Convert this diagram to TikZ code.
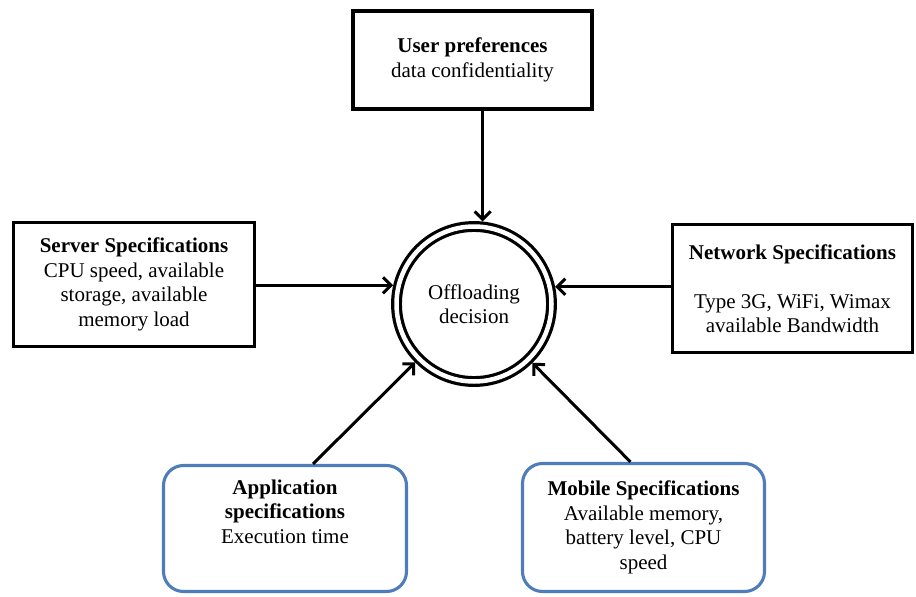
\documentclass[tikz,border=0pt]{standalone}
\usepackage{fontspec}
\setmainfont{Liberation Serif}
\usetikzlibrary{arrows.meta}
\definecolor{boxblue}{RGB}{79,125,185}
\begin{document}
\begin{tikzpicture}[x=1pt,y=-1pt,
  every node/.style={font=\fontsize{21}{24.5}\selectfont, align=center, inner sep=0pt},
  sqbox/.style={draw=black, line width=3.3pt, rectangle, fill=white},
  rndbox/.style={draw=boxblue, line width=3.1pt, rectangle, rounded corners=20pt, fill=white},
  decision/.style={circle, draw=black, line width=3.2pt, double=white, double distance=4.5pt, minimum size=155pt, outer sep=5.5pt},
  conn/.style={draw=black, line width=3pt, -{Straight Barb[length=8pt,width=16pt]}}
]
\useasboundingbox (0,0) rectangle (916,597);

\node[sqbox, minimum width=239pt, minimum height=98pt] (user) at (472.5,60)
  {\textbf{User preferences}\\data confidentiality};
\node[sqbox, minimum width=241pt, minimum height=124pt] (server) at (134,284.5)
  {\textbf{Server Specifications}\\CPU speed, available\\storage, available\\memory load};
\node[sqbox, minimum width=240pt, minimum height=128pt] (net) at (792.5,288.5)
  {\textbf{Network Specifications}\\[24.5pt]Type 3G, WiFi, Wimax\\available Bandwidth};
\node[rndbox, minimum width=243pt, minimum height=126pt] (app) at (285,528.5)
  {\textbf{Application}\\\textbf{specifications}\\Execution time\\[10pt]\mbox{}};
\node[rndbox, minimum width=242pt, minimum height=128pt] (mob) at (643.5,527.5)
  {\textbf{Mobile Specifications}\\Available memory,\\battery level, CPU\\speed};

\node[decision] (c) at (474,304) {Offloading\\decision};

\draw[conn] (user.south -| c.84) -- (c.84);
\draw[conn] (server.east |- c.167.5) -- (c.167.5);
\draw[conn] (net.west |- c.12.5) -- (c.12.5);
\draw[conn] ([xshift=28pt]app.north) -- (c);
\draw[conn] ([xshift=-13pt]mob.north) -- (c);
\end{tikzpicture}
\end{document}
